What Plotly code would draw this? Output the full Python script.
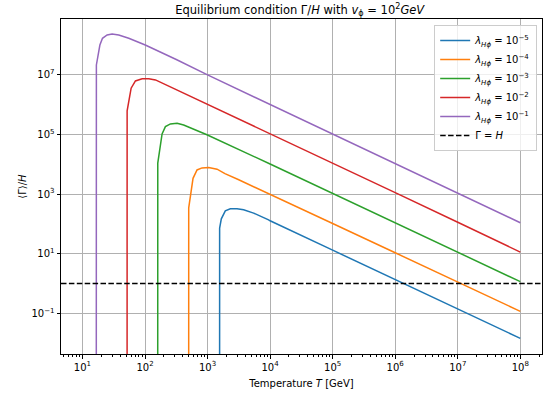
import plotly.graph_objects as go

# ---- data (T in GeV, value = <Gamma>/H) ----
# value 1e-30 stands for the clipped zero just below the threshold temperature
T_lam1e5 = [1555, 1560, 1660, 1923, 2312, 2958, 3773, 5450, 9460, 1e4, 1e5, 1e6, 1e7, 1e8]
V_lam1e5 = [1e-30, 72.6, 149, 275, 322, 322, 298, 231, 138, 128, 13.2, 1.37, 0.141, 0.0145]

T_lam1e4 = [497, 500, 586, 679, 816, 1042, 1419, 1897, 3090, 1e4, 1e5, 1e6, 1e7, 1e8]
V_lam1e4 = [1e-30, 347, 3.4e3, 6.5e3, 7.6e3, 7.8e3, 6.9e3, 4.9e3, 3.1e3, 1.0e3, 104, 10.8, 1.13, 0.117]

T_lam1e3 = [159, 160, 187.5, 212, 255, 326, 415, 600, 977, 1e4, 1e5, 1e6, 1e7, 1e8]
V_lam1e3 = [1e-30, 1.1e4, 1.05e5, 1.85e5, 2.28e5, 2.4e5, 2.1e5, 1.55e5, 9.8e4, 1.03e4, 1.06e3, 109, 11.3, 1.16]

T_lam1e2 = [51.5, 51.8, 60, 70.3, 90, 115, 147, 316, 1e3, 1e4, 1e5, 1e6, 1e7, 1e8]
V_lam1e2 = [1e-30, 6.2e5, 3.6e6, 6.3e6, 7.5e6, 7.5e6, 6.8e6, 3.2e6, 1.05e6, 1.1e5, 1.12e4, 1.13e3, 114, 11.4]

T_lam1e1 = [16.5, 16.7, 19.0, 20.9, 24.8, 29.8, 38, 55, 101, 316, 1e3, 1e4, 1e5, 1e6, 1e7, 1e8]
V_lam1e1 = [1e-30, 2.16e7, 1.01e8, 1.7e8, 2.19e8, 2.37e8, 2.19e8, 1.7e8, 1.01e8, 3.3e7, 1.0e7, 1.02e6, 1.04e5, 1.06e4, 1.08e3, 110]

GAMMA_EQ_H = 1.0

series_labels = [
    "<i>λ</i><sub><i>Hϕ</i></sub> = 10<sup>−5</sup>",
    "<i>λ</i><sub><i>Hϕ</i></sub> = 10<sup>−4</sup>",
    "<i>λ</i><sub><i>Hϕ</i></sub> = 10<sup>−3</sup>",
    "<i>λ</i><sub><i>Hϕ</i></sub> = 10<sup>−2</sup>",
    "<i>λ</i><sub><i>Hϕ</i></sub> = 10<sup>−1</sup>",
]
colors = ["#1f77b4", "#ff7f0e", "#2ca02c", "#d62728", "#9467bd"]

x_tickvals = [1e1, 1e2, 1e3, 1e4, 1e5, 1e6, 1e7, 1e8]
x_ticktext = ["10<sup>%d</sup>" % k for k in range(1, 9)]
y_tickvals = [1e-1, 1e1, 1e3, 1e5, 1e7]
y_ticktext = ["10<sup>−1</sup>", "10<sup>1</sup>", "10<sup>3</sup>", "10<sup>5</sup>", "10<sup>7</sup>"]

fig = go.Figure()
all_T = [T_lam1e5, T_lam1e4, T_lam1e3, T_lam1e2, T_lam1e1]
all_V = [V_lam1e5, V_lam1e4, V_lam1e3, V_lam1e2, V_lam1e1]
for T, V, name, c in zip(all_T, all_V, series_labels, colors):
    fig.add_trace(go.Scatter(x=T, y=V, mode="lines", name=name,
                             line=dict(color=c, width=1.5), showlegend=True))

# Gamma = H line
fig.add_shape(type="line", xref="paper", x0=0, x1=1, yref="y", y0=GAMMA_EQ_H, y1=GAMMA_EQ_H,
              line=dict(color="black", width=1.5, dash="5.5px,2.4px"))
fig.add_trace(go.Scatter(x=[None], y=[None], mode="lines", name="Γ = <i>H</i>",
                         line=dict(color="black", width=1.5, dash="5.5px,2.4px")))

font = dict(family="DejaVu Sans", size=10, color="black")
fig.update_layout(
    width=544, height=396,
    margin=dict(l=61, r=2, t=19, b=42, autoexpand=False),
    paper_bgcolor="white", plot_bgcolor="white",
    font=font,
    title=dict(text="Equilibrium condition Γ/<i>H</i> with <i>v</i><sub>ϕ</sub> = 10<sup>2</sup><i>GeV</i>",
               x=0.551, xanchor="center", y=0.985, yanchor="top",
               font=dict(family="DejaVu Sans", size=11.5, color="black")),
    showlegend=True,
    legend=dict(x=0.99, y=0.982, xanchor="right", yanchor="top",
                bgcolor="rgba(255,255,255,0.8)", bordercolor="#cccccc", borderwidth=1,
                font=dict(family="DejaVu Sans", size=10, color="black"),
                itemwidth=30, tracegroupgap=0),
)
fig.update_xaxes(type="log", range=[0.657, 8.347],
                 tickvals=x_tickvals, ticktext=x_ticktext,
                 ticks="outside", ticklen=3.5, tickwidth=0.8, tickcolor="black",
                 showline=True, mirror=True, linecolor="black", linewidth=1,
                 showgrid=True, gridcolor="#b0b0b0", gridwidth=0.8, zeroline=False,
                 minor=dict(ticks="outside", ticklen=2, tickwidth=0.6, tickcolor="black",
                            dtick="D1", showgrid=False),
                 title=dict(text="Temperature <i>T</i> [GeV]", standoff=8,
                            font=dict(family="DejaVu Sans", size=10, color="black")),
                 automargin=False)
fig.update_yaxes(type="log", range=[-2.363, 8.877],
                 tickvals=y_tickvals, ticktext=y_ticktext,
                 ticks="outside", ticklen=3.5, tickwidth=0.8, tickcolor="black",
                 showline=True, mirror=True, linecolor="black", linewidth=1,
                 showgrid=True, gridcolor="#b0b0b0", gridwidth=0.8, zeroline=False,
                 title=dict(text="⟨Γ⟩/<i>H</i>", standoff=2,
                            font=dict(family="DejaVu Sans", size=10, color="black")),
                 automargin=False)

fig.write_html("out.html", config={"displayModeBar": False},
               post_script="document.body.style.margin='0';document.body.style.overflow='hidden';")
